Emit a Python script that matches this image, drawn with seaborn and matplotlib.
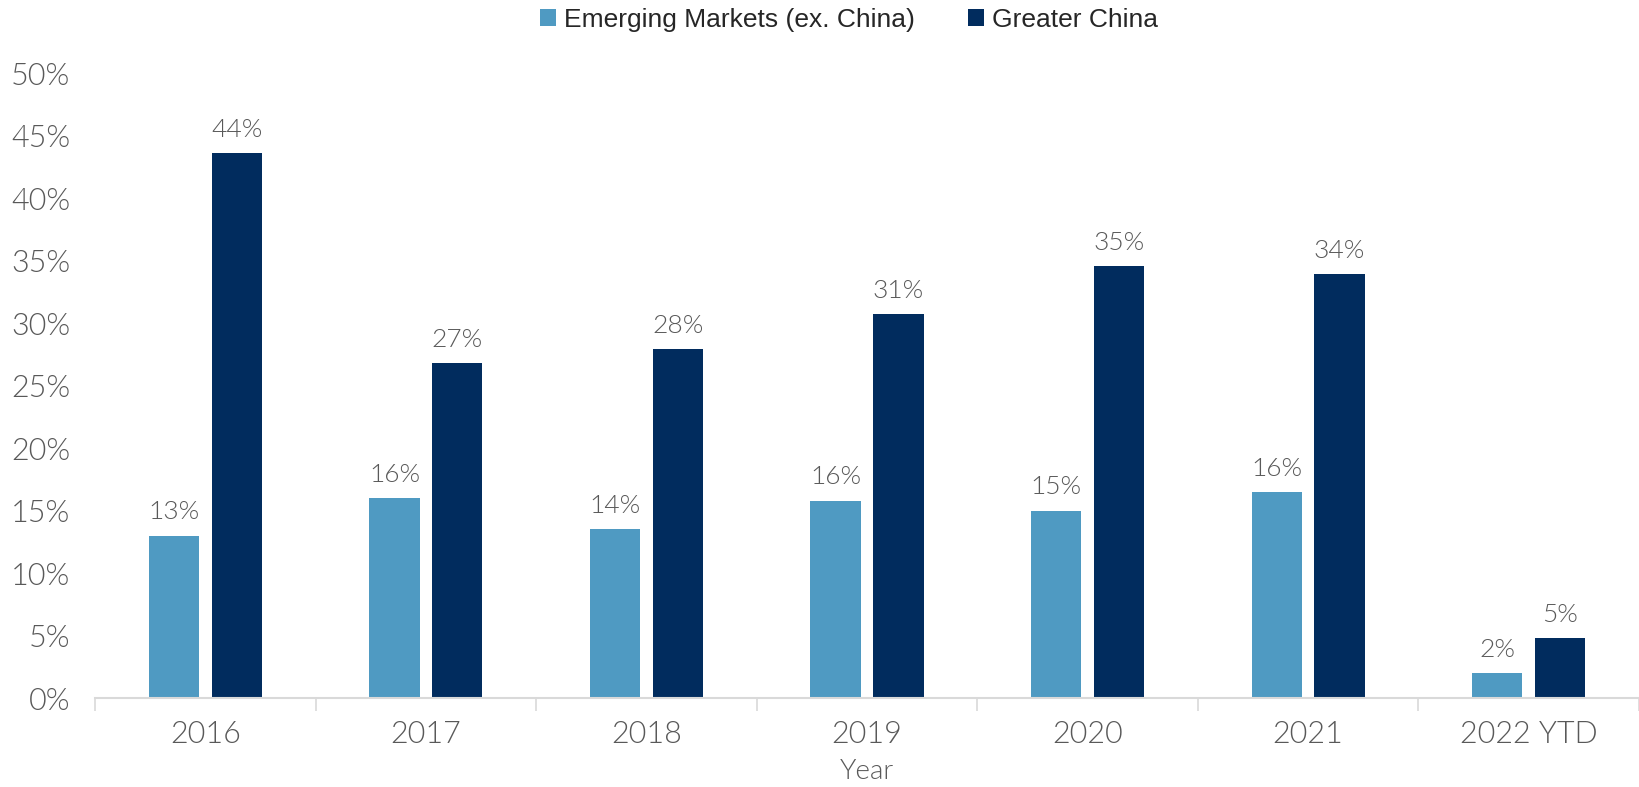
import matplotlib
matplotlib.use("Agg")
import matplotlib.pyplot as plt
import seaborn as sns
import pandas as pd
from matplotlib.ticker import FuncFormatter, FixedLocator

years = ["2016", "2017", "2018", "2019", "2020", "2021", "2022 YTD"]
emerging_ex_china = [13.0, 16.0, 13.5, 15.8, 15.0, 16.5, 2.0]
greater_china = [43.6, 26.8, 27.9, 30.7, 34.6, 33.9, 4.8]
series_names = ["Emerging Markets (ex. China)", "Greater China"]
colors = ["#4F9AC2", "#012C5E"]

df = pd.DataFrame({
    "Year": years * 2,
    "Return": emerging_ex_china + greater_china,
    "Series": [series_names[0]] * len(years) + [series_names[1]] * len(years),
})

sns.set_theme(style="white")
light_font = {"family": ["Lato", "DejaVu Sans"], "weight": 300}
grey = "#595959"

fig = plt.figure(figsize=(16.39, 7.87), dpi=100)
ax = fig.add_axes([0.058, 0.113, 0.942, 0.794])

sns.barplot(data=df, x="Year", y="Return", hue="Series", order=years,
            hue_order=series_names, palette=colors, width=0.57, gap=0.2,
            saturation=1, ax=ax, errorbar=None, linewidth=0)

ax.set_ylim(0, 50)
ax.set_xlim(-0.5, len(years) - 0.5)
ax.set_yticks(range(0, 51, 5))
ax.yaxis.set_major_formatter(FuncFormatter(lambda v, _: f"{v:.0f}%"))

# value labels above each bar
for container in ax.containers:
    for bar in container:
        h = bar.get_height()
        ax.annotate(f"{h:.0f}%", (bar.get_x() + bar.get_width() / 2, h),
                    xytext=(0, 8), textcoords="offset points",
                    ha="center", va="bottom", fontsize=19, color=grey,
                    **light_font)

for lbl in ax.get_xticklabels() + ax.get_yticklabels():
    lbl.set_fontsize(22)
    lbl.set_color(grey)
    lbl.set_fontfamily(light_font["family"])
    lbl.set_fontweight(300)

ax.tick_params(axis="x", which="major", length=0, pad=16)
ax.tick_params(axis="y", length=0, pad=18)
ax.xaxis.set_minor_locator(FixedLocator([i - 0.5 for i in range(len(years) + 1)]))
ax.tick_params(axis="x", which="minor", length=9, width=1.2, color="#D9D9D9",
               bottom=True)

for side in ["left", "right", "top"]:
    ax.spines[side].set_visible(False)
ax.spines["bottom"].set_color("#D9D9D9")
ax.spines["bottom"].set_linewidth(1.5)

ax.set_ylabel("")
ax.set_xlabel("Year", fontsize=20, color=grey, labelpad=7, **light_font)

handles, labels = ax.get_legend_handles_labels()
ax.legend_.remove()
fig.legend(handles, labels, loc="center", bbox_to_anchor=(0.518, 0.975),
           ncol=2, frameon=False, handlelength=0.6, handleheight=0.6,
           handletextpad=0.3, columnspacing=2.0,
           prop={"family": ["Liberation Sans", "DejaVu Sans"], "size": 19})

fig.savefig("out.png", dpi=100)
